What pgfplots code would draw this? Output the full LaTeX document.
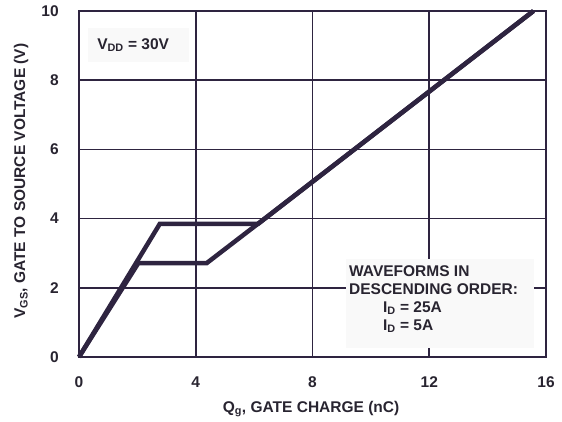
\documentclass[border=0pt]{standalone}
\usepackage{fontspec}
\setmainfont{Liberation Sans}
\usepackage{pgfplots}
\pgfplotsset{compat=1.18}
\definecolor{ink}{RGB}{46,36,64}
\definecolor{txt}{RGB}{40,36,48}
\definecolor{boxfill}{RGB}{249,249,249}

\begin{document}
\fontsize{15.5}{17.5}\selectfont\bfseries
\begin{tikzpicture}
\useasboundingbox (-79pt,-65pt) rectangle (483pt,357pt);
\begin{axis}[
  at={(0,0)}, anchor=south west,
  scale only axis,
  width=467pt, height=346pt,
  xmin=0, xmax=16,
  ymin=0, ymax=10,
  xtick={0,4,8,12,16},
  ytick={0,2,4,6,8,10},
  major tick length=0pt,
  grid=major,
  grid style={ink, line width=1.6pt},
  axis line style={ink, line width=1.6pt},
  /pgf/number format/assume math mode=true,
  tick label style={font=\fontsize{15.5}{17.5}\selectfont\bfseries, text=txt},
  x tick label style={yshift=-14pt},
  y tick label style={xshift=-15pt},
  clip=false,
]
  % annotation boxes cover the grid
  \fill[boxfill] (axis cs:0.31,8.53) rectangle (axis cs:3.77,9.51);
  \fill[boxfill] (axis cs:9.14,0.26) rectangle (axis cs:15.58,2.83);

  % I_D = 25A
  \addplot[ink, line width=4.5pt, line join=miter] coordinates {
    (0,0) (2.77,3.85) (6.14,3.85) (15.57,10)
  };
  % I_D = 5A
  \addplot[ink, line width=4.5pt, line join=miter] coordinates {
    (0,0) (2.03,2.71) (4.37,2.71) (6.3,3.96) (15.57,10)
  };

  \node[anchor=west, text=txt, inner sep=0pt] at (axis cs:0.62,9.02) {V\textsubscript{DD} = 30V};
  \node[anchor=north west, align=left, inner sep=0pt, text=txt,
        font=\fontsize{15.5}{17.8}\selectfont\bfseries]
    at (axis cs:9.25,2.64) {WAVEFORMS IN\\DESCENDING ORDER:\\\hspace*{34pt}I\textsubscript{D} = 25A\\\hspace*{34pt}I\textsubscript{D} = 5A};

  \node[anchor=base, text=txt] at (axis cs:7.95,-1.59) {Q\textsubscript{g}, GATE CHARGE (nC)};
  \node[rotate=90, anchor=base, text=txt] at (axis cs:-1.85,5.08) {V\textsubscript{GS}, GATE TO SOURCE VOLTAGE (V)};
\end{axis}
\end{tikzpicture}
\end{document}
